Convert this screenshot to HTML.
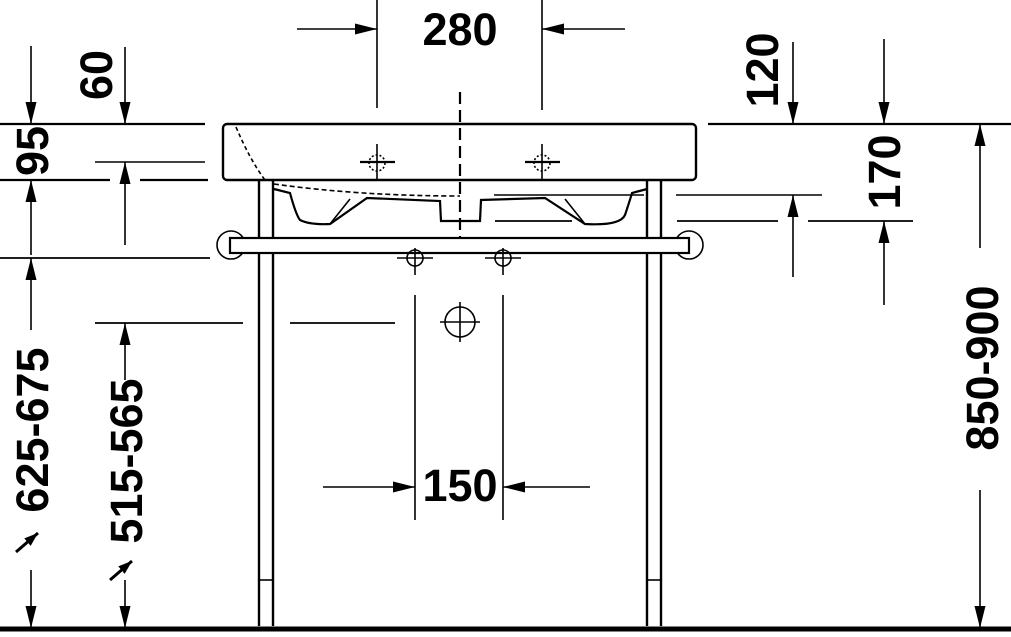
<!DOCTYPE html>
<html><head><style>html,body{margin:0;padding:0;background:#fff}</style></head><body>
<svg width="1011" height="632" viewBox="0 0 1011 632" xmlns="http://www.w3.org/2000/svg" font-family="'Liberation Sans', sans-serif" font-weight="bold">
<defs>
<marker id="a" markerWidth="24" markerHeight="12" refX="22" refY="5.5" orient="auto" markerUnits="userSpaceOnUse"><path d="M0,0 L22,5.5 L0,11 Z" fill="#000"/></marker>
<marker id="b" markerWidth="16" markerHeight="12" refX="14" refY="5" orient="auto" markerUnits="userSpaceOnUse"><path d="M0,0 L14,5 L0,10 Z" fill="#000"/></marker>
</defs>
<g stroke="#000" stroke-width="1.6" fill="none">
<!-- 280 -->
<line x1="377" y1="0" x2="377" y2="108"/><line x1="542" y1="0" x2="542" y2="110"/>
<line x1="297" y1="29" x2="377" y2="29" marker-end="url(#a)"/>
<line x1="625" y1="29" x2="542" y2="29" marker-end="url(#a)"/>
<!-- left dims -->
<line x1="0" y1="124" x2="205" y2="124" stroke-width="2.2"/>
<line x1="95" y1="162" x2="205" y2="162"/>
<line x1="0" y1="180" x2="110" y2="180" stroke-width="2.2"/><line x1="140" y1="180" x2="208" y2="180" stroke-width="2.2"/>
<line x1="0" y1="258" x2="210" y2="258" stroke-width="1.8"/>
<line x1="31" y1="46" x2="31" y2="124" marker-end="url(#a)"/>
<line x1="125" y1="47" x2="125" y2="124" marker-end="url(#a)"/>
<line x1="31" y1="255" x2="31" y2="180" marker-end="url(#a)"/>
<line x1="125" y1="245" x2="125" y2="162" marker-end="url(#a)"/>
<line x1="31" y1="330" x2="31" y2="258" marker-end="url(#a)"/>
<line x1="31" y1="570" x2="31" y2="628" marker-end="url(#a)"/>
<line x1="95" y1="323" x2="243" y2="323" stroke-width="1.8"/><line x1="290" y1="323" x2="395" y2="323" stroke-width="1.8"/>
<line x1="125" y1="380" x2="125" y2="323" marker-end="url(#a)"/>
<line x1="125" y1="580" x2="125" y2="628" marker-end="url(#a)"/>
<line x1="16" y1="552" x2="38" y2="533" stroke-width="3" marker-end="url(#b)"/>
<line x1="110" y1="580" x2="132" y2="561" stroke-width="3" marker-end="url(#b)"/>
<!-- right dims -->
<line x1="708" y1="124" x2="1011" y2="124" stroke-width="2.2"/>
<line x1="676" y1="195" x2="822" y2="195"/>
<line x1="677" y1="221" x2="778" y2="221" stroke-width="1.8"/><line x1="808" y1="221" x2="913" y2="221" stroke-width="1.8"/>
<line x1="793" y1="42" x2="793" y2="124" marker-end="url(#a)"/>
<line x1="884" y1="39" x2="884" y2="124" marker-end="url(#a)"/>
<line x1="793" y1="277" x2="793" y2="195" marker-end="url(#a)"/>
<line x1="884" y1="305" x2="884" y2="221" marker-end="url(#a)"/>
<line x1="980" y1="248" x2="980" y2="124" marker-end="url(#a)"/>
<line x1="980" y1="490" x2="980" y2="628" marker-end="url(#a)"/>
<!-- 150 -->
<line x1="415" y1="295" x2="415" y2="520"/><line x1="503" y1="295" x2="503" y2="520"/>
<line x1="323" y1="487" x2="415" y2="487" marker-end="url(#a)"/>
<line x1="590" y1="487" x2="503" y2="487" marker-end="url(#a)"/>
<!-- basin -->
<rect x="223" y="124" width="473" height="56" rx="4" stroke-width="2.4"/>
<path d="M236,127 Q250,160 265,180" stroke-dasharray="4,3"/>
<path d="M274,184 Q360,196 460,196" stroke-dasharray="5,3"/>
<path d="M274,189 L290,193 Q296,215 300,220 Q310,225 330,224 L367,198 L440,201 L441,221 L480,221 L481,200 L545,198 L585,224 Q620,226 625,215 Q630,200 632,193 L647,189" stroke-width="2.2"/>
<path d="M330,224 L350,199 M585,224 L565,199"/>
<line x1="494" y1="195" x2="644" y2="195"/>
<line x1="495" y1="221" x2="572" y2="221" stroke-width="1.8"/>
<line x1="460" y1="92" x2="460" y2="248" stroke-width="2.2" stroke-dasharray="12,6"/>
<!-- taps -->
<line x1="360" y1="162" x2="395" y2="162" stroke-width="2.2"/><line x1="377" y1="144" x2="377" y2="180"/>
<circle cx="377" cy="163" r="8" stroke-dasharray="2,2"/>
<line x1="525" y1="162" x2="560" y2="162" stroke-width="2.2"/><line x1="542" y1="144" x2="542" y2="180"/>
<circle cx="542" cy="163" r="8" stroke-dasharray="2,2"/>
<!-- legs -->
<line x1="259" y1="180" x2="259" y2="626" stroke-width="2.4"/><line x1="273" y1="180" x2="273" y2="626" stroke-width="2.4"/>
<line x1="647" y1="180" x2="647" y2="626" stroke-width="2.4"/><line x1="661" y1="180" x2="661" y2="626" stroke-width="2.4"/>
<line x1="259" y1="580" x2="273" y2="580"/><line x1="647" y1="580" x2="661" y2="580"/>
<!-- towel bar -->
<circle cx="231" cy="245" r="14"/><circle cx="689" cy="245" r="14"/>
<rect x="230" y="238" width="459" height="15" fill="#fff" stroke-width="2.2"/>
<circle cx="415" cy="258" r="8"/><circle cx="503" cy="258" r="8"/>
<line x1="397" y1="258" x2="433" y2="258"/><line x1="485" y1="258" x2="521" y2="258"/>
<line x1="415" y1="248" x2="415" y2="275"/><line x1="503" y1="248" x2="503" y2="275"/>
<circle cx="460" cy="322" r="15"/>
<line x1="440" y1="322" x2="480" y2="322"/><line x1="460" y1="302" x2="460" y2="342"/>
</g>
<line x1="0" y1="629" x2="1011" y2="629" stroke="#000" stroke-width="5"/>
<g font-size="45" fill="#000" text-anchor="middle">
<text x="460" y="45">280</text>
<text x="460" y="501">150</text>
<text transform="translate(112,75) rotate(-90)">60</text>
<text transform="translate(48,151) rotate(-90)">95</text>
<text transform="translate(48,430) rotate(-90)">625-675</text>
<text transform="translate(142,461) rotate(-90)">515-565</text>
<text transform="translate(778,70) rotate(-90)">120</text>
<text transform="translate(900,172) rotate(-90)">170</text>
<text transform="translate(998,368) rotate(-90)">850-900</text>
</g>
</svg>
</body></html>
